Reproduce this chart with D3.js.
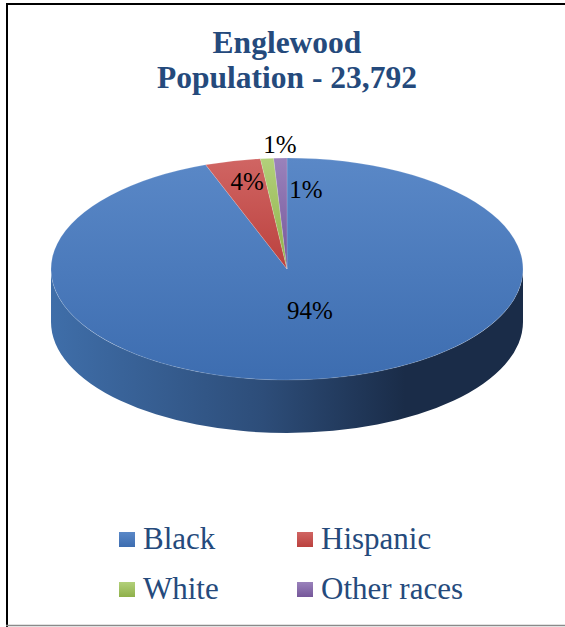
<!DOCTYPE html>
<html>
<head>
<meta charset="utf-8">
<script src="https://cdn.jsdelivr.net/npm/d3@7"></script>
<style>
  html, body { margin: 0; padding: 0; background: #fff; }
  svg { display: block; }
</style>
</head>
<body>
<svg id="chart" width="565" height="627"></svg>
<script>
// ---- data ----
const categories = ["Black", "Hispanic", "White", "Other races"];
const values = [94.4, 3.8, 0.9, 0.9];
const titleLines = ["Englewood", "Population - 23,792"];

// ---- style / layout ----
const FONT = '"Liberation Serif"';
const colors = {
  "Black":       { top: ["#5a88c7", "#3d6db0"], side: ["#3f6ea9", "#1a2c48"] },
  "Hispanic":    { top: ["#d06563", "#bb413e"], side: ["#a8403d", "#5e1f1d"] },
  "White":       { top: ["#b2d07a", "#8fb04a"], side: ["#86a548", "#4a5d24"] },
  "Other races": { top: ["#9a82bb", "#75579a"], side: ["#6f5590", "#3a2c4d"] }
};
// label placement: radius fraction and angle nudge (radians)
const labelLayout = [
  { r: 0.39, nudge: -0.077 },
  { r: 0.81, nudge: 0.023 },
  { r: 1.12, nudge: 0.058 },
  { r: 0.72, nudge: 0.14 }
];

const W = 565, H = 627;
const cx = 287, cy = 269, rx = 236, ry = 111, depth = 53;

const svg = d3.select("#chart");
const defs = svg.append("defs");

svg.append("rect").attr("width", W).attr("height", H).attr("fill", "#fff");

// gradients
categories.forEach((c, i) => {
  const gt = defs.append("linearGradient").attr("id", "top" + i)
    .attr("x1", 0).attr("y1", 0).attr("x2", 0).attr("y2", 1);
  gt.append("stop").attr("offset", "0%").attr("stop-color", colors[c].top[0]);
  gt.append("stop").attr("offset", "100%").attr("stop-color", colors[c].top[1]);
  const gs = defs.append("linearGradient").attr("id", "side" + i)
    .attr("gradientUnits", "userSpaceOnUse")
    .attr("x1", cx - rx).attr("y1", 0).attr("x2", cx + rx).attr("y2", 0);
  gs.append("stop").attr("offset", "0%").attr("stop-color", colors[c].side[0]);
  gs.append("stop").attr("offset", "45%").attr("stop-color", d3.interpolateRgb(colors[c].side[0], colors[c].side[1])(0.5));
  gs.append("stop").attr("offset", "75%").attr("stop-color", colors[c].side[1]);
  gs.append("stop").attr("offset", "100%").attr("stop-color", colors[c].side[1]);
});

// frame
svg.append("line").attr("x1", 6).attr("y1", 4).attr("x2", W).attr("y2", 4)
  .attr("stroke", "#000").attr("stroke-width", 2);
svg.append("line").attr("x1", 7).attr("y1", 3).attr("x2", 7).attr("y2", H)
  .attr("stroke", "#000").attr("stroke-width", 2);
svg.append("line").attr("x1", 6).attr("y1", 625.5).attr("x2", W).attr("y2", 625.5)
  .attr("stroke", "#8a8a8a").attr("stroke-width", 1.5);

// title
const title = svg.append("text")
  .attr("text-anchor", "middle")
  .style("font-family", FONT)
  .style("font-weight", "bold")
  .style("font-size", "31.5px")
  .attr("fill", "#254a7c");
title.selectAll("tspan").data(titleLines).join("tspan")
  .attr("x", 287).attr("y", (d, i) => 53 + i * 35).text(d => d);

// pie
const pie = d3.pie().sort(null).value(d => d);
const arcsData = pie(values);

const pt = (a, dy = 0) => [cx + rx * Math.sin(a), cy - ry * Math.cos(a) + dy];

// side walls (front-facing parts)
const sideG = svg.append("g");
arcsData.forEach((d, i) => {
  const s = Math.max(d.startAngle, Math.PI / 2);
  const e = Math.min(d.endAngle, 3 * Math.PI / 2);
  if (s >= e) return;
  const p0 = pt(s), p1 = pt(e), p2 = pt(e, depth), p3 = pt(s, depth);
  const large = (e - s) > Math.PI ? 1 : 0;
  const p = `M${p0[0]},${p0[1]} A${rx},${ry} 0 ${large} 1 ${p1[0]},${p1[1]} L${p2[0]},${p2[1]} A${rx},${ry} 0 ${large} 0 ${p3[0]},${p3[1]} Z`;
  sideG.append("path").attr("d", p).attr("fill", `url(#side${i})`);
});

// top face
const arc = d3.arc().innerRadius(0).outerRadius(rx);
const topG = svg.append("g")
  .attr("transform", `translate(${cx},${cy}) scale(1,${ry / rx})`);
topG.selectAll("path").data(arcsData).join("path")
  .attr("d", arc)
  .attr("fill", (d, i) => `url(#top${i})`)
  .attr("stroke", "rgba(255,255,255,0.35)")
  .attr("stroke-width", 0.6);

// data labels
const total = d3.sum(values);
svg.append("g").selectAll("text").data(arcsData).join("text")
  .style("font-family", FONT)
  .style("font-size", "25px")
  .attr("fill", "#000")
  .attr("text-anchor", "middle")
  .attr("dominant-baseline", "central")
  .attr("x", (d, i) => {
    const a = (d.startAngle + d.endAngle) / 2 + labelLayout[i].nudge;
    return cx + rx * labelLayout[i].r * Math.sin(a);
  })
  .attr("y", (d, i) => {
    const a = (d.startAngle + d.endAngle) / 2 + labelLayout[i].nudge;
    return cy - ry * labelLayout[i].r * Math.cos(a);
  })
  .text(d => Math.round(d.value / total * 100) + "%");

// legend
const legX = [119, 297], legY = [532, 582];
const leg = svg.append("g").selectAll("g").data(categories).join("g")
  .attr("transform", (d, i) => `translate(${legX[i % 2]},${legY[Math.floor(i / 2)]})`);
leg.append("rect").attr("width", 16).attr("height", 15)
  .attr("fill", (d, i) => `url(#top${i})`);
leg.append("text").attr("x", 24).attr("y", 17)
  .style("font-family", FONT)
  .style("font-size", "31px")
  .attr("fill", "#254a7c")
  .text(d => d);
</script>
</body>
</html>
